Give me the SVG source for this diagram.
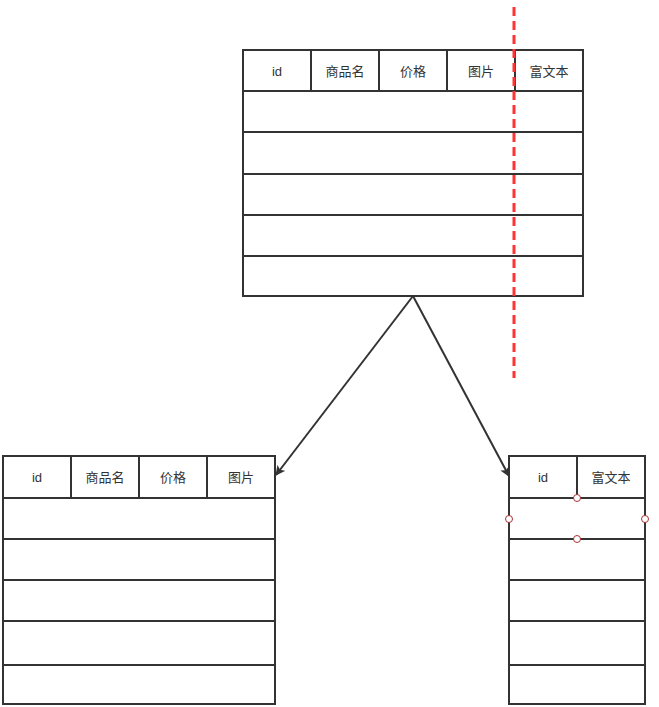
<svg xmlns="http://www.w3.org/2000/svg" width="659" height="707" viewBox="0 0 659 707">
<style>
.b{fill:none;stroke:#333;stroke-width:2}
.t{font-family:"Liberation Sans","Noto Sans CJK SC",sans-serif;font-size:13px;fill:#333;text-anchor:middle;dominant-baseline:central}
.h{fill:#fff;stroke:#a33;stroke-width:1}
</style>
<defs>
<marker id="ah" markerWidth="10" markerHeight="10" refX="9" refY="5" orient="auto" markerUnits="userSpaceOnUse" viewBox="0 0 10 10">
<path d="M0,0 L10,5 L0,10 L2.5,5 Z" fill="#333"/>
</marker>
</defs>
<rect width="659" height="707" fill="#fff"/>
<g id="table-main">
<rect class="b" x="243" y="50" width="340" height="246"/>
<path class="b" d="M311,50V91M379,50V91M447,50V91M515,50V91M243,91H583M243,132H583M243,174H583M243,215H583M243,256H583"/>
<text class="t" x="277" y="71">id</text>
<text class="t" x="345" y="71">商品名</text>
<text class="t" x="413" y="71">价格</text>
<text class="t" x="481" y="71">图片</text>
<text class="t" x="549" y="71">富文本</text>
</g>
<g id="table-left">
<rect class="b" x="3" y="456" width="272" height="248"/>
<path class="b" d="M71,456V498M139,456V498M207,456V498M3,498H275M3,539H275M3,580H275M3,621H275M3,665H275"/>
<text class="t" x="37" y="477">id</text>
<text class="t" x="105" y="477">商品名</text>
<text class="t" x="173" y="477">价格</text>
<text class="t" x="241" y="477">图片</text>
</g>
<g id="table-right">
<rect class="b" x="509" y="456" width="136" height="248"/>
<path class="b" d="M577,456V498M509,498H645M509,539H645M509,580H645M509,621H645M509,665H645"/>
<text class="t" x="543" y="477">id</text>
<text class="t" x="611" y="477">富文本</text>
<circle class="h" cx="577" cy="498" r="3.5"/>
<circle class="h" cx="509" cy="519" r="3.5"/>
<circle class="h" cx="645" cy="519" r="3.5"/>
<circle class="h" cx="577" cy="539" r="3.5"/>
</g>
<g id="split-line">
<line x1="514" y1="7" x2="514" y2="378" stroke="#f33" stroke-width="3" stroke-dasharray="9 5"/>
</g>
<g id="connectors">
<line class="b" x1="413" y1="296" x2="276" y2="475" marker-end="url(#ah)"/>
<line class="b" x1="413" y1="296" x2="509" y2="476" marker-end="url(#ah)"/>
</g>
</svg>
